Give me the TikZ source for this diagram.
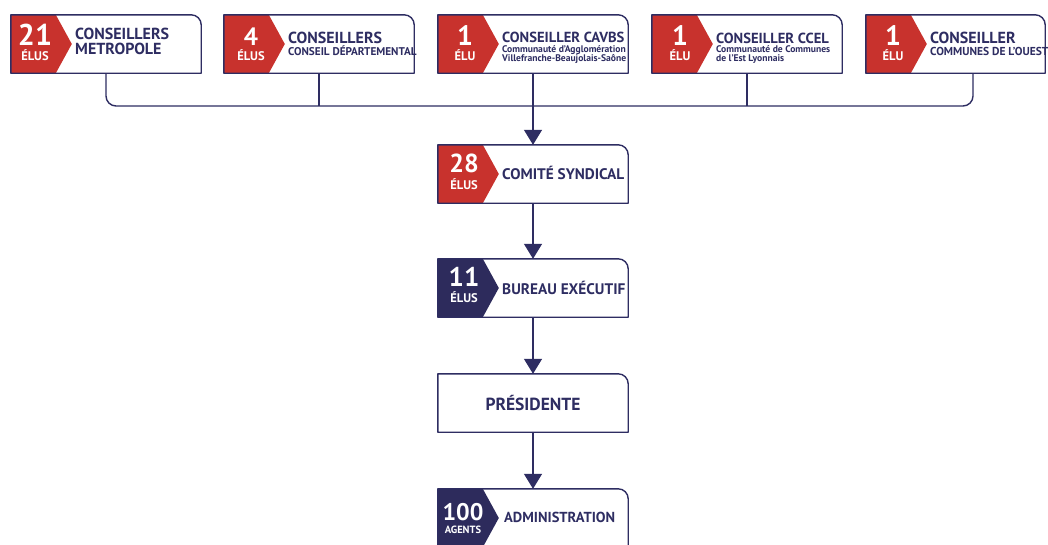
\documentclass[tikz,border=0pt]{standalone}
\usepackage{fontspec}
\setmainfont{PT Sans}
\usetikzlibrary{arrows.meta,calc}
\definecolor{navy}{RGB}{46,45,98}
\definecolor{tabred}{RGB}{200,50,45}
\definecolor{tabnavy}{RGB}{45,43,92}
\newcommand\tabshape[2]{\fill[#2] (#1.north west) -- ([xshift=45pt]#1.north west) -- ([xshift=61pt]#1.west) -- ([xshift=45pt]#1.south west) -- (#1.south west) -- cycle;}
\newcommand\boxedge[1]{\draw[outline] (#1.south west) -- (#1.north west) -- ([xshift=-10pt]#1.north east) arc[start angle=-90,end angle=0,radius=10] -- (#1.south east) -- cycle;}
\begin{document}
\begin{tikzpicture}[x=1pt,y=-1pt,
  frame/.style={draw=none, minimum width=190pt, minimum height=58pt, inner sep=0pt},
  outline/.style={draw=navy, line width=1.4pt, line join=round},
  conn/.style={draw=navy, line width=1.4pt},
  tip/.style={-{Triangle[width=18pt,length=15pt]}},
  num/.style={text=white, font=\bfseries\fontsize{#1}{#1}\selectfont, anchor=base, inner sep=0pt},
  lab/.style={text=white, font=\bfseries\fontsize{#1}{#1}\selectfont, anchor=base, inner sep=0pt},
  ttl/.style={text=navy, font=\bfseries\fontsize{#1}{#1}\selectfont, anchor=base west, inner sep=0pt},
  sub/.style={text=navy, font=\bfseries\fontsize{#1}{#1}\selectfont, anchor=base west, inner sep=0pt}
]
\useasboundingbox (0,0) rectangle (1048,544);
\clip (0,0) rectangle (1048,544);
\fill[white] (0,0) rectangle (1048,544);

% box frames
\node[frame] (b1) at (106,44) {};
\node[frame] (b2) at (319,44) {};
\node[frame] (b3) at (533,44) {};
\node[frame] (b4) at (747,44) {};
\node[frame, minimum width=179pt] (b5) at (955.5,44) {};
\node[frame] (cs) at (533,174) {};
\node[frame] (be) at (533,288) {};
\node[frame] (pr) at (533,403) {};
\node[frame] (ad) at (533,518) {};

% tabs
\tabshape{b1}{tabred}
\tabshape{b2}{tabred}
\tabshape{b3}{tabred}
\tabshape{b4}{tabred}
\tabshape{b5}{tabred}
\tabshape{cs}{tabred}
\tabshape{be}{tabnavy}
\tabshape{ad}{tabnavy}

% outlines
\boxedge{b1}
\boxedge{b2}
\boxedge{b3}
\boxedge{b4}
\boxedge{b5}
\boxedge{cs}
\boxedge{be}
\boxedge{pr}
\boxedge{ad}

% connectors
\coordinate (bus) at (0,106);
\coordinate (d5) at ([xshift=17.5pt]b5.south);
\draw[conn, rounded corners=10pt] (b1.south) -- (b1.south |- bus) -- (d5 |- bus) -- (d5);
\draw[conn] (b2.south) -- (b2.south |- bus);
\draw[conn] (b4.south) -- (b4.south |- bus);
\draw[conn, tip] (b3.south) -- (cs.north);
\draw[conn, tip] (cs.south) -- (be.north);
\draw[conn, tip] (be.south) -- (pr.north);
\draw[conn, tip] (pr.south) -- (ad.north);

% numbers
\node[num=30] (n1) at (35,45) {21};
\node[lab=12.5] (e1) at (35,60.5) {ÉLUS};
\node[num=25] (n2) at (251,45) {4};
\node[lab=12.5] (e2) at (251,60.5) {ÉLUS};
\node[num=28] (n3) at (465,45) {1};
\node[lab=12.5] (e3) at (465,60.5) {ÉLU};
\node[num=28] (n4) at (680,45) {1};
\node[lab=12.5] (e4) at (680,60.5) {ÉLU};
\node[num=28] (n5) at (893,45) {1};
\node[lab=12.5] (e5) at (893,60.5) {ÉLU};
\node[num=26] (n6) at (464,172) {28};
\node[lab=12.5] (e6) at (464,189) {ÉLUS};
\node[num=27] (n7) at (464,286) {11};
\node[lab=12.5] (e7) at (464,302) {ÉLUS};
\node[num=24] (n8) at (463,520) {100};
\node[lab=10.5] (e8) at (463,533) {AGENTS};

% titles
\node[ttl=16] (t1a) at (75,39) {CONSEILLERS};
\node[ttl=16] (t1b) at (75,54.5) {METROPOLE};
\node[ttl=16] (t2a) at (288,43) {CONSEILLERS};
\node[sub=11.2] (t2b) at (288,55) {CONSEIL DÉPARTEMENTAL};
\node[ttl=14.6] (t3a) at (502,42) {CONSEILLER CAVBS};
\node[sub=9.6] (t3b) at (502,52) {Communauté d'Agglomération};
\node[sub=9.6] (t3c) at (502,61) {Villefranche-Beaujolais-Saône};
\node[ttl=14.6] (t4a) at (716,43) {CONSEILLER CCEL};
\node[sub=9.6] (t4b) at (716,52) {Communauté de Communes};
\node[sub=9.6] (t4c) at (716,61) {de l'Est Lyonnais};
\node[ttl=16] (t5a) at (930,43) {CONSEILLER};
\node[sub=11.5] (t5b) at (930,55) {COMMUNES DE L'OUEST};
\node[ttl=15.3] (t6) at (502,179) {COMITÉ SYNDICAL};
\node[ttl=15.3] (t7) at (502,294) {BUREAU EXÉCUTIF};
\node[ttl=17.5, anchor=base] (t8) at (533,410) {PRÉSIDENTE};
\node[ttl=14.5] (t9) at (504,522) {ADMINISTRATION};
\end{tikzpicture}
\end{document}
